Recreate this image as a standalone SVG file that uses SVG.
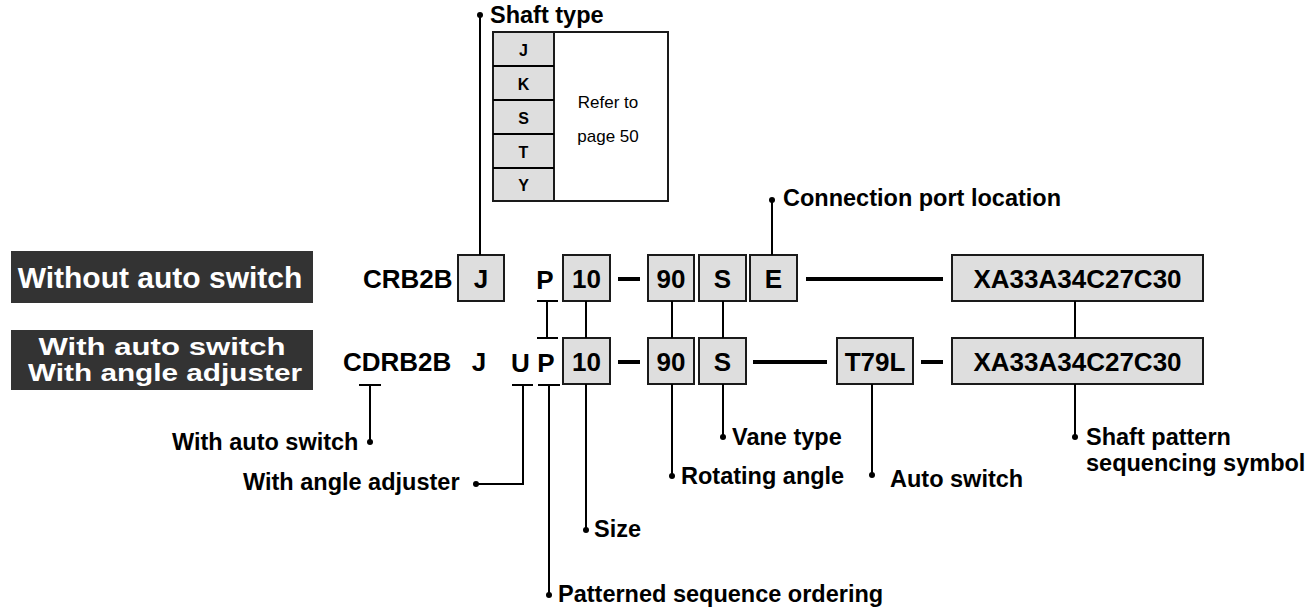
<svg xmlns="http://www.w3.org/2000/svg" width="1316" height="613" viewBox="0 0 1316 613">
<style>
text{font-family:"Liberation Sans",Arial,sans-serif;font-weight:bold;fill:#000}
.lbl{font-size:23.5px}
.code{font-size:26px}
.mid{text-anchor:middle}
.box{fill:#dedede;stroke:#1a1a1a;stroke-width:2}
.hdr{fill:#333}
.hdr-t{fill:#fff;font-size:30px;text-anchor:middle}
.hdr-s{fill:#fff;font-size:24px;text-anchor:middle}
.ln{stroke:#000;stroke-width:2;fill:none}
.dash{stroke:#000;stroke-width:4;fill:none}
.tbl{font-size:16px;text-anchor:middle}
.reg{font-weight:normal;font-size:17px;text-anchor:middle}
</style>
<rect width="1316" height="613" fill="#fff"/>

<g id="label-without">
<rect class="hdr" x="11" y="251" width="302" height="52"/>
<text class="hdr-t" x="160" y="288">Without auto switch</text>
</g>
<g id="label-with">
<rect class="hdr" x="11" y="330" width="302" height="60"/>
<text class="hdr-s" x="162" y="355" textLength="247" lengthAdjust="spacingAndGlyphs">With auto switch</text>
<text class="hdr-s" x="165" y="381" textLength="274" lengthAdjust="spacingAndGlyphs">With angle adjuster</text>
</g>

<g id="shaft-table">
<rect x="493" y="32" width="175" height="169" fill="#fff" stroke="#1a1a1a" stroke-width="2"/>
<rect x="493" y="32" width="61" height="169" fill="#dedede" stroke="#1a1a1a" stroke-width="2"/>
<path class="ln" d="M493 66H554M493 100H554M493 134H554M493 168H554" stroke-width="1.5"/>
<text class="tbl" x="523.5" y="56">J</text>
<text class="tbl" x="523.5" y="90">K</text>
<text class="tbl" x="523.5" y="124">S</text>
<text class="tbl" x="523.5" y="158">T</text>
<text class="tbl" x="523.5" y="191">Y</text>
<text class="reg" x="608" y="108">Refer to</text>
<text class="reg" x="608" y="142">page 50</text>
</g>

<g id="row1">
<text class="code" x="363" y="288">CRB2B</text>
<rect class="box" x="458" y="255" width="46" height="46"/>
<text class="code mid" x="481" y="288">J</text>
<text class="code mid" x="545" y="289">P</text>
<rect class="box" x="563" y="255" width="47" height="46"/>
<text class="code mid" x="586.5" y="288">10</text>
<rect class="box" x="648" y="255" width="46" height="46"/>
<text class="code mid" x="671" y="288">90</text>
<rect class="box" x="699" y="255" width="47" height="46"/>
<text class="code mid" x="722.5" y="288">S</text>
<rect class="box" x="750" y="255" width="47" height="46"/>
<text class="code mid" x="773.5" y="288">E</text>
<rect class="box" x="952" y="255" width="251" height="46"/>
<text class="code mid" x="1077.5" y="288">XA33A34C27C30</text>
</g>

<g id="row2">
<text class="code" x="343" y="371">CDRB2B</text>
<text class="code mid" x="479" y="371">J</text>
<text class="code mid" x="520.5" y="372">U</text>
<text class="code mid" x="546" y="372">P</text>
<rect class="box" x="563" y="338" width="47" height="46"/>
<text class="code mid" x="586.5" y="371">10</text>
<rect class="box" x="648" y="338" width="46" height="46"/>
<text class="code mid" x="671" y="371">90</text>
<rect class="box" x="699" y="338" width="47" height="46"/>
<text class="code mid" x="722.5" y="371">S</text>
<rect class="box" x="837" y="338" width="76" height="46"/>
<text class="code mid" x="875" y="371">T79L</text>
<rect class="box" x="952" y="338" width="251" height="46"/>
<text class="code mid" x="1077.5" y="371">XA33A34C27C30</text>
</g>

<g id="labels">
<text class="lbl" x="490" y="23">Shaft type</text>
<text class="lbl" x="783" y="206">Connection port location</text>
<text class="lbl" x="172" y="450">With auto switch</text>
<text class="lbl" x="243" y="490">With angle adjuster</text>
<text class="lbl" x="732" y="445">Vane type</text>
<text class="lbl" x="681" y="484">Rotating angle</text>
<text class="lbl" x="890" y="487">Auto switch</text>
<text class="lbl" x="1086" y="445">Shaft pattern</text>
<text class="lbl" x="1086" y="471">sequencing symbol</text>
<text class="lbl" x="594" y="537">Size</text>
<text class="lbl" x="558" y="602">Patterned sequence ordering</text>
</g>

<g id="connectors">
<path class="dash" d="M618 279H640M806 279H943M618 362H640M753 362H827M921 362H943"/>
<path class="ln" d="M480 15V255M772 200V255"/>
<path class="ln" d="M586 301V338M672 301V338M723 301V338M1075 301V338"/>
<path class="ln" d="M537 301H558M547 301V338M537 338H558"/>
<path class="ln" d="M586 384V530M672 384V476M723 384V437M872 384V475M1075 384V437"/>
<path class="ln" d="M359 385H381M370 385V442"/>
<path class="ln" d="M512 385H533M523 385V484H476"/>
<path class="ln" d="M538 385H560M549 385V595"/>
<g fill="#000">
<circle cx="480" cy="15" r="3"/>
<circle cx="772" cy="200" r="3"/>
<circle cx="370" cy="442" r="3"/>
<circle cx="476" cy="484" r="3"/>
<circle cx="549" cy="595" r="3"/>
<circle cx="586" cy="530" r="3"/>
<circle cx="672" cy="476" r="3"/>
<circle cx="723" cy="437" r="3"/>
<circle cx="872" cy="475" r="3"/>
<circle cx="1075" cy="437" r="3"/>
</g>
</g>
</svg>
